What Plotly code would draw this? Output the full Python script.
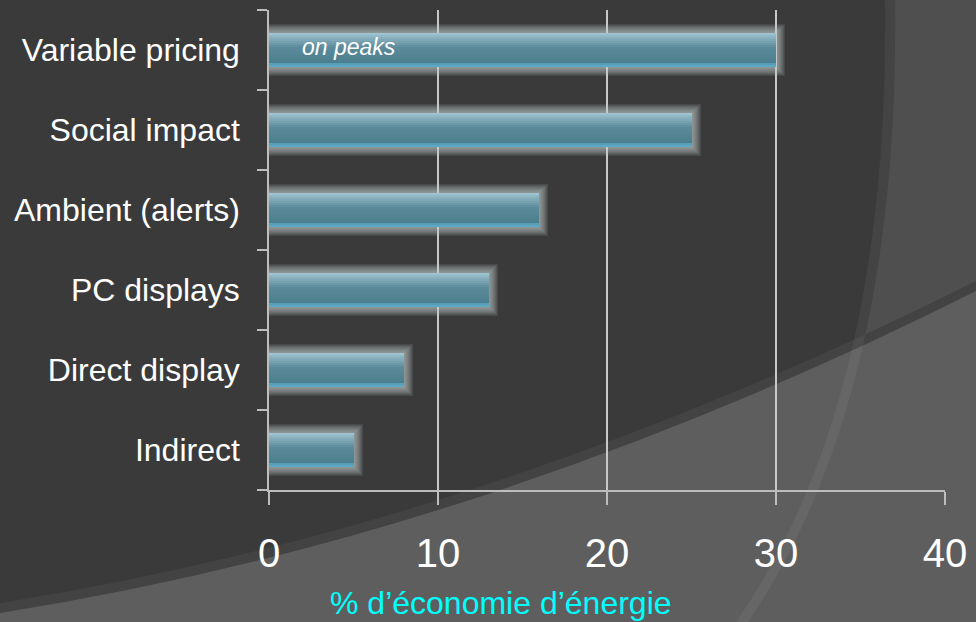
import plotly.graph_objects as go

# ---------------- data ----------------
categories = ["Variable pricing", "Social impact", "Ambient (alerts)",
              "PC displays", "Direct display", "Indirect"]
savings = [30, 25, 16, 13, 8, 5]
note_text = "on peaks"
note_category = "Variable pricing"
x_ticks = [0, 10, 20, 30, 40]
x_title = "% d’économie d’énergie"

# ---------------- layout geometry ----------------
W, H = 976, 622
ML, MR, MT, MB = 269, 31, 10, 132
PW, PH = W - ML - MR, H - MT - MB
X_MAX = 40
PX_PER_X = PW / X_MAX
PX_PER_CAT = PH / len(categories)
BAR_PX = 34
BAR_W = BAR_PX / PX_PER_CAT

FONT = "Liberation Sans, Arial, sans-serif"

y_cats = categories[::-1]
x_vals = savings[::-1]


def P(px, py):
    return f"{(px - ML) / PW:.5f},{(H - MB - py) / PH:.5f}"


fig = go.Figure()

# ---- soft glow behind bars ----
GLOW_STEPS = 9
for k in range(GLOW_STEPS, 0, -1):
    w = BAR_W + 2 * k / PX_PER_CAT
    fig.add_trace(go.Bar(
        y=y_cats, x=[v + 1 + k / PX_PER_X for v in x_vals], base=-1,
        orientation="h", width=w, offset=-w / 2,
        marker=dict(color="rgba(200,204,204,0.10)", line=dict(width=0)),
        hoverinfo="skip", showlegend=False))

# ---- gradient bar slices (2 px each) ----
stops = [(0.0, (166, 202, 215)), (0.06, (150, 188, 201)), (0.42, (92, 139, 155)),
         (0.86, (75, 127, 143)), (0.9, (84, 156, 180)), (1.0, (94, 174, 200))]


def grad(f):
    for (f0, c0), (f1, c1) in zip(stops[:-1], stops[1:]):
        if f0 <= f <= f1:
            t = (f - f0) / (f1 - f0) if f1 > f0 else 0
            return "rgb(%d,%d,%d)" % tuple(round(a + (b - a) * t) for a, b in zip(c0, c1))
    return "rgb(%d,%d,%d)" % stops[-1][1]


N = BAR_PX // 2
sw = BAR_W / N
for i in range(N):
    fc = (i + 0.5) / N
    off = BAR_W / 2 - (i + 1) * sw
    fig.add_trace(go.Bar(
        y=y_cats, x=x_vals, orientation="h",
        width=sw, offset=off,
        marker=dict(color=grad(fc), line=dict(width=0)),
        hoverinfo="skip", showlegend=False))

# ---- background decoration shapes (slide theme) ----
shapes = [
    dict(type="path", xref="paper", yref="paper", layer="below",
         path=f"M {P(1010,-10)} L {P(895,-10)} L {P(895,0)} Q {P(900,400)} {P(747,622)} L {P(747,640)} L {P(1010,640)} Z",
         fillcolor="#4f4f4f", line=dict(width=0)),
    dict(type="path", xref="paper", yref="paper", layer="below",
         path=f"M {P(-20,604)} L {P(0,603)} Q {P(488,526)} {P(976,281)} L {P(1010,271)} L {P(1010,640)} L {P(-20,640)} Z",
         fillcolor="#434343", line=dict(width=0)),
    dict(type="path", xref="paper", yref="paper", layer="below",
         path=f"M {P(-20,614)} L {P(0,613)} Q {P(488,536)} {P(976,291)} L {P(1010,281)} L {P(1010,640)} L {P(-20,640)} Z",
         fillcolor="#5e5e5e", line=dict(width=0)),
    dict(type="path", xref="paper", yref="paper", layer="below",
         path=f"M {P(890,-5)} L {P(890,0)} Q {P(895,400)} {P(742,622)} L {P(735,635)}",
         fillcolor="rgba(0,0,0,0)", line=dict(color="rgba(255,255,255,0.05)", width=10)),
]

annotations = [
    dict(x=((332 + 670) / 2 - ML) / PW, y=(H - MB - 603) / PH, xref="paper", yref="paper",
         text=x_title, showarrow=False, xanchor="center", yanchor="middle",
         font=dict(family=FONT, size=32, color="#00ffff")),
    dict(x=(302 - ML) / PX_PER_X, y=note_category, xref="x", yref="y", text=f"<i>{note_text}</i>",
         xanchor="left", yanchor="middle", yshift=3, xshift=-2, showarrow=False,
         font=dict(family=FONT, size=23, color="#ffffff")),
]

fig.update_layout(
    width=W, height=H,
    margin=dict(l=ML, r=MR, t=MT, b=MB, pad=0),
    paper_bgcolor="#3a3a3a", plot_bgcolor="rgba(0,0,0,0)",
    barmode="overlay", bargap=0,
    shapes=shapes, annotations=annotations,
    font=dict(family=FONT, color="#ffffff"),
    xaxis=dict(range=[0, X_MAX], tickvals=x_ticks, showgrid=True, gridcolor="#c8c8c8", gridwidth=1.5,
               zeroline=False, showline=True, linecolor="#bdbdbd", linewidth=1.5,
               ticks="outside", ticklen=13, tickwidth=1.5, tickcolor="#bdbdbd",
               tickfont=dict(family=FONT, size=40, color="#ffffff"), ticklabelstandoff=14,
               fixedrange=True),
    yaxis=dict(type="category", categoryorder="array", categoryarray=y_cats,
               showgrid=False, zeroline=False, showline=True, linecolor="#bdbdbd", linewidth=1.5,
               ticks="outside", tickson="boundaries", ticklen=10, tickwidth=1.5, tickcolor="#bdbdbd",
               tickfont=dict(family=FONT, size=32, color="#ffffff"), ticklabelstandoff=21,
               fixedrange=True),
)

fig.write_html("out.html")
